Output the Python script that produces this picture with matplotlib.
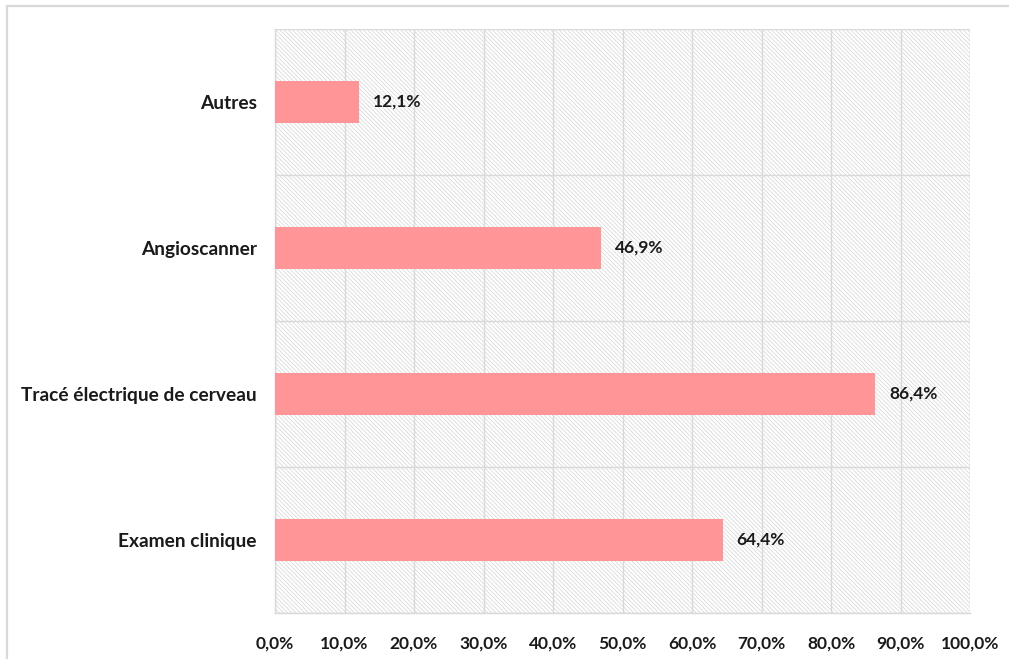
import matplotlib
matplotlib.use("Agg")
import matplotlib.pyplot as plt
from matplotlib.patches import Rectangle
from matplotlib.ticker import FixedLocator, FuncFormatter

categories = ["Examen clinique", "Tracé électrique de cerveau", "Angioscanner", "Autres"]
values = [64.4, 86.4, 46.9, 12.1]
x_ticks = [0, 10, 20, 30, 40, 50, 60, 70, 80, 90, 100]

BAR_COLOR = "#ff9597"
GRID_COLOR = "#d9d9d9"
TEXT_COLOR = "#1a1a1a"

plt.rcParams["font.family"] = ["Lato", "DejaVu Sans"]
plt.rcParams["hatch.color"] = "#dadada"
plt.rcParams["hatch.linewidth"] = 0.6


def pct(v, _pos=None):
    return f"{v:.1f}%".replace(".", ",")


fig = plt.figure(figsize=(10.09, 6.59), dpi=100)
ax = fig.add_axes([275 / 1009, 1 - 613 / 659, 695 / 1009, 584 / 659])

# outer chart frame (only left and top edges fall inside the image)
fig.add_artist(Rectangle((7 / 1009, -0.2), 1.2, 1.2 - 6 / 659,
                         transform=fig.transFigure, fill=False,
                         edgecolor=GRID_COLOR, linewidth=1.6))

# hatched plot area
ax.add_patch(Rectangle((0, 0), 1, 1, transform=ax.transAxes, facecolor="white",
                       edgecolor="#dadada", hatch="\\" * 8, linewidth=0, zorder=0))

ypos = list(range(len(categories)))
ax.barh(ypos, values, height=0.29, color=BAR_COLOR, zorder=3)

for y, v in zip(ypos, values):
    ax.text(v + 2.0, y, pct(v), va="center", ha="left", fontsize=12.5,
            fontweight="bold", color=TEXT_COLOR, zorder=4)

ax.set_xlim(0, 100)
ax.set_ylim(-0.5, len(categories) - 0.5)
ax.xaxis.set_major_locator(FixedLocator(x_ticks))
ax.xaxis.set_major_formatter(FuncFormatter(pct))
ax.set_yticks(ypos)
ax.set_yticklabels(categories)
ax.yaxis.set_minor_locator(FixedLocator([i - 0.5 for i in range(len(categories) + 1)]))

ax.grid(axis="x", which="major", color=GRID_COLOR, linewidth=1.0, zorder=1)
ax.grid(axis="y", which="minor", color=GRID_COLOR, linewidth=1.0, zorder=1)
ax.set_axisbelow(True)

for side in ["top", "right"]:
    ax.spines[side].set_visible(False)
for side in ["left", "bottom"]:
    ax.spines[side].set_color(GRID_COLOR)
    ax.spines[side].set_linewidth(1.0)

ax.tick_params(axis="x", length=0, pad=16, labelsize=12.5, labelcolor=TEXT_COLOR)
ax.tick_params(axis="y", which="both", length=0, pad=13, labelsize=13.8,
               labelcolor=TEXT_COLOR)
for lbl in ax.get_xticklabels() + ax.get_yticklabels():
    lbl.set_fontweight("bold")

fig.savefig("out.png", dpi=100, facecolor="white")
